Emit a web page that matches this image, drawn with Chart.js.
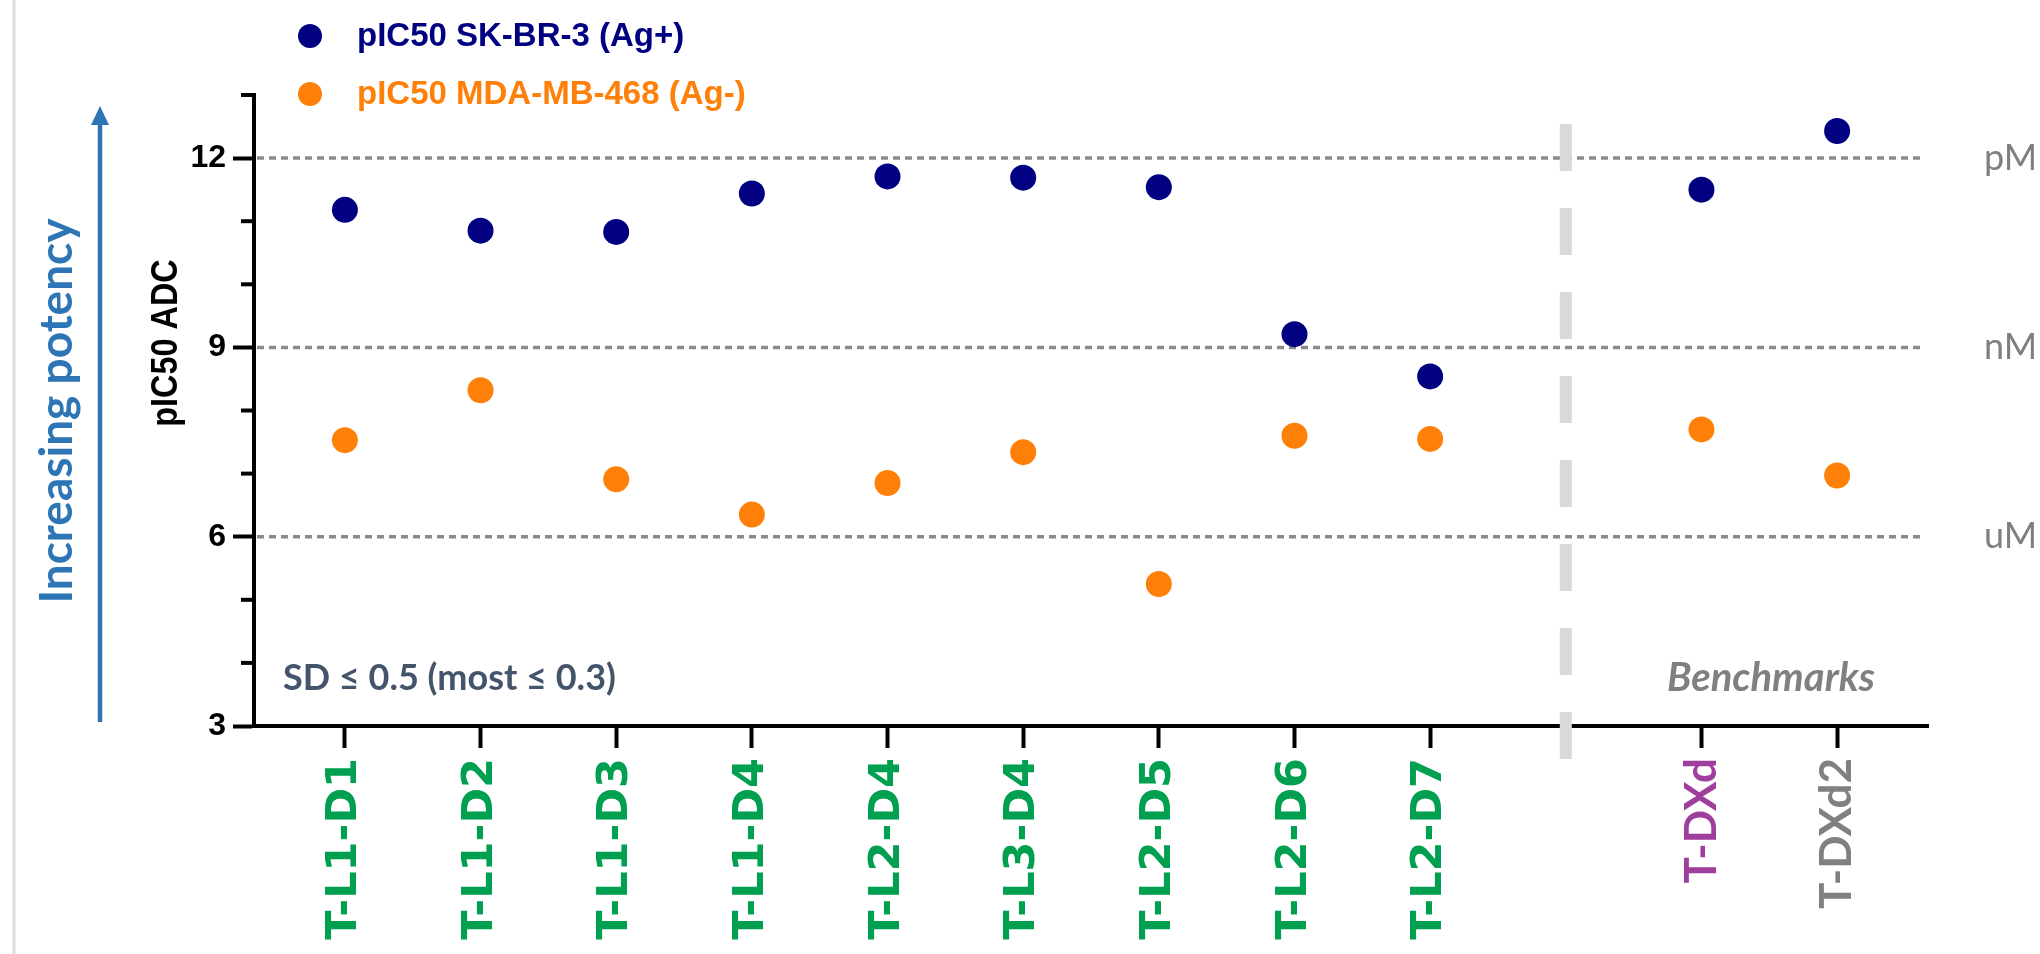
<!DOCTYPE html>
<html>
<head>
<meta charset="utf-8">
<script src="https://cdn.jsdelivr.net/npm/chart.js@4.4.1/dist/chart.umd.min.js"></script>
<style>
  html, body { margin: 0; padding: 0; background: #fff; }
  canvas { display: block; }
</style>
</head>
<body>
<canvas id="chart" width="2040" height="954"></canvas>
<script>
"use strict";

// categories on the x axis; the empty slot is the gap before the benchmarks
const categories = ["T-L1-D1", "T-L1-D2", "T-L1-D3", "T-L1-D4", "T-L2-D4", "T-L3-D4",
  "T-L2-D5", "T-L2-D6", "T-L2-D7", "", "T-DXd", "T-DXd2"];
const labelColors = ["#00a050", "#00a050", "#00a050", "#00a050", "#00a050", "#00a050",
  "#00a050", "#00a050", "#00a050", "#00a050", "#9e3f9e", "#808080"];

const seriesNames = ["pIC50 SK-BR-3 (Ag+)", "pIC50 MDA-MB-468 (Ag-)"];
const seriesColors = ["#000080", "#ff8008"];
const skbr3 = [11.18, 10.85, 10.83, 11.44, 11.71, 11.69, 11.54, 9.21, 8.54, null, 11.50, 12.43];
const mda468 = [7.53, 8.32, 6.91, 6.35, 6.85, 7.34, 5.25, 7.60, 7.55, null, 7.70, 6.97];

const yLabelTicks = [3, 6, 9, 12];
const refValues = [12, 9, 6];
const refLabels = ["pM", "nM", "uM"];
const gapIndex = 9;

const ARIAL = "'Liberation Sans', Arial, sans-serif";

function toPoints(arr) {
  return arr.map((v, i) => ({ x: i, y: v })).filter(p => p.y !== null);
}

const decor = {
  id: "decor",
  beforeDatasetsDraw(chart) {
    const { ctx, chartArea: a, scales: { y } } = chart;
    ctx.save();
    // dotted reference lines + unit labels
    ctx.strokeStyle = "#8a8a8a";
    ctx.lineWidth = 3.5;
    ctx.setLineDash([7, 5]);
    refValues.forEach((v) => {
      const py = y.getPixelForValue(v);
      ctx.beginPath();
      ctx.moveTo(a.left + 3, py);
      ctx.lineTo(a.right - 3, py);
      ctx.stroke();
    });
    ctx.setLineDash([]);
    ctx.fillStyle = "#7f7f7f";
    ctx.font = "36px Lato, 'Open Sans', sans-serif";
    ctx.textBaseline = "middle";
    ctx.textAlign = "left";
    refValues.forEach((v, i) => ctx.fillText(refLabels[i], 1984, y.getPixelForValue(v)));
    // minor ticks on y axis
    ctx.strokeStyle = "#000";
    ctx.lineWidth = 4;
    for (let v = 3; v <= 13; v++) {
      if (yLabelTicks.includes(v)) continue;
      const py = y.getPixelForValue(v);
      ctx.beginPath();
      ctx.moveTo(a.left - 13, py);
      ctx.lineTo(a.left, py);
      ctx.stroke();
    }
    // y axis title
    ctx.save();
    ctx.translate(167, 343);
    ctx.rotate(-Math.PI / 2);
    ctx.scale(0.9, 1);
    ctx.fillStyle = "#000";
    ctx.font = "bold 36px " + ARIAL;
    ctx.textAlign = "center";
    ctx.fillText("pIC50 ADC", 0, 0);
    ctx.restore();
    ctx.restore();
  },
  afterDatasetsDraw(chart) {
    const { ctx, chartArea: a, scales: { x } } = chart;
    ctx.save();
    // grey dashed separator before the benchmarks
    const gx = x.getPixelForValue(gapIndex);
    ctx.strokeStyle = "#d9d9d9";
    ctx.lineWidth = 12;
    ctx.setLineDash([47, 37]);
    ctx.beginPath();
    ctx.moveTo(gx, a.top + 29);
    ctx.lineTo(gx, a.bottom + 37);
    ctx.stroke();
    ctx.setLineDash([]);

    // legend
    ctx.textBaseline = "middle";
    ctx.textAlign = "left";
    ctx.font = "bold 33px " + ARIAL;
    seriesNames.forEach((name, i) => {
      const cy = 36 + i * 58;
      ctx.fillStyle = seriesColors[i];
      ctx.beginPath();
      ctx.arc(310, cy, 12, 0, Math.PI * 2);
      ctx.fill();
      ctx.fillText(name, 357, cy + 1);
    });

    // notes inside the plot
    ctx.fillStyle = "#44546a";
    ctx.font = "bold 36px Lato, sans-serif";
    ctx.fillText("SD \u2264 0.5 (most \u2264 0.3)", 283, 678);
    ctx.fillStyle = "#808080";
    ctx.font = "italic bold 40px Lato, sans-serif";
    ctx.textAlign = "center";
    ctx.fillText("Benchmarks", 1771, 678);

    // potency arrow
    ctx.strokeStyle = "#2e75b6";
    ctx.fillStyle = "#2e75b6";
    ctx.lineWidth = 4.5;
    ctx.beginPath();
    ctx.moveTo(100, 722);
    ctx.lineTo(100, 120);
    ctx.stroke();
    ctx.beginPath();
    ctx.moveTo(100, 106);
    ctx.lineTo(91, 125);
    ctx.lineTo(109, 125);
    ctx.closePath();
    ctx.fill();

    ctx.translate(57, 411);
    ctx.rotate(-Math.PI / 2);
    ctx.font = "bold 46px Lato, sans-serif";
    ctx.textAlign = "center";
    ctx.fillText("Increasing potency", 0, 0);
    ctx.restore();

    // page border on the left
    ctx.save();
    ctx.strokeStyle = "#dcdcdc";
    ctx.lineWidth = 3;
    ctx.beginPath();
    ctx.moveTo(14, 0);
    ctx.lineTo(14, chart.height);
    ctx.stroke();
    ctx.restore();
  }
};

new Chart(document.getElementById("chart"), {
  type: "scatter",
  data: {
    datasets: [
      { label: seriesNames[0], data: toPoints(skbr3), backgroundColor: seriesColors[0],
        borderWidth: 0, pointRadius: 13, pointHoverRadius: 13 },
      { label: seriesNames[1], data: toPoints(mda468), backgroundColor: seriesColors[1],
        borderWidth: 0, pointRadius: 13, pointHoverRadius: 13 },
    ],
  },
  options: {
    responsive: false,
    animation: false,
    devicePixelRatio: 1,
    layout: { padding: { left: 140, right: 112, top: 95, bottom: 0 } },
    plugins: { legend: { display: false }, tooltip: { enabled: false } },
    scales: {
      x: {
        type: "linear",
        min: -0.67,
        max: 11.67,
        afterBuildTicks: (s) => {
          s.ticks = categories.map((c, i) => ({ value: i })).filter(t => categories[t.value]);
        },
        afterFit: (s) => { s.height = 228; },
        ticks: {
          autoSkip: false,
          minRotation: 90,
          maxRotation: 90,
          padding: 10,
          callback: (v) => categories[v],
          color: (c) => labelColors[c.tick ? c.tick.value : 0],
          font: (c) => {
            const v = c.tick ? c.tick.value : 0;
            return v >= 10
              ? { family: "Lato, sans-serif", size: 44, weight: "bold" }
              : { family: "'DejaVu Sans', Verdana, sans-serif", size: 43, weight: "bold" };
          },
        },
        grid: { drawOnChartArea: false, drawTicks: true, tickLength: 22, tickWidth: 4, tickColor: "#000" },
        border: { display: true, color: "#000", width: 4 },
      },
      y: {
        min: 3,
        max: 13,
        afterFit: (s) => { s.width = 114; },
        ticks: {
          stepSize: 1,
          padding: 7,
          color: "#000",
          font: { family: ARIAL, size: 32, weight: "bold" },
          callback: (v) => (yLabelTicks.includes(v) ? String(v) : ""),
        },
        grid: {
          drawOnChartArea: false, drawTicks: true, tickLength: 21, tickWidth: 4,
          tickColor: (c) => (c.tick && yLabelTicks.includes(c.tick.value) ? "#000" : "rgba(0,0,0,0)"),
        },
        border: { display: true, color: "#000", width: 4 },
      },
    },
  },
  plugins: [decor],
});
</script>
</body>
</html>
